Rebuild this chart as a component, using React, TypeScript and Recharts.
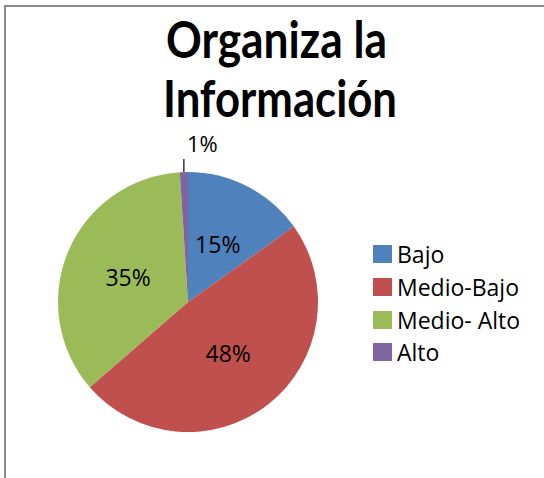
import React from 'react';
import { PieChart, Pie, Cell, Legend } from 'recharts';

const categories = ['Bajo', 'Medio-Bajo', 'Medio- Alto', 'Alto'];
const values = [15, 48, 35, 1];
const colors = ['#4F81BD', '#C0504D', '#9BBB59', '#8064A2'];
const titleLines = ['Organiza la', 'Información'];

const data = categories.map((name, i) => ({ name, value: values[i] }));

const RADIAN = Math.PI / 180;
const labelFont = '"Open Sans", "Noto Sans", sans-serif';

function SliceLabel(props: any) {
  const { cx, cy, midAngle, outerRadius, value, index } = props;
  const cos = Math.cos(-midAngle * RADIAN);
  const sin = Math.sin(-midAngle * RADIAN);
  if (index === 3) {
    const ex = cx + outerRadius * cos;
    const ey = cy + outerRadius * sin;
    return (
      <g>
        <line x1={ex} y1={ey} x2={ex} y2={ey - 13} stroke="#000" strokeWidth={1.2} />
        <text x={ex + 3} y={ey - 20} fill="#000" fontSize={22} fontFamily={labelFont} textAnchor="start">
          {`${value}%`}
        </text>
      </g>
    );
  }
  const r = outerRadius * 0.5;
  return (
    <text
      x={cx + r * cos}
      y={cy + r * sin}
      fill="#000"
      fontSize={23}
      fontFamily={labelFont}
      textAnchor="middle"
      dominantBaseline="central"
    >
      {`${value}%`}
    </text>
  );
}

function LegendBox() {
  return (
    <div style={{ fontFamily: labelFont, fontSize: 23, color: '#000' }}>
      {categories.map((c, i) => (
        <div key={c} style={{ display: 'flex', alignItems: 'center', height: 32.7 }}>
          <span style={{ width: 19, height: 18, background: colors[i], marginRight: 5, display: 'inline-block' }} />
          <span style={{ lineHeight: '26px', whiteSpace: 'pre' }}>{c}</span>
        </div>
      ))}
    </div>
  );
}

export default function App() {
  return (
    <div style={{ position: 'absolute', left: 0, top: 0, width: 544, height: 478, background: '#fff', overflow: 'hidden' }}>
      <div
        style={{
          position: 'absolute',
          left: 4,
          top: 5,
          width: 560,
          height: 500,
          borderTop: '2px solid #8a8a8a',
          borderLeft: '2px solid #8a8a8a',
        }}
      />
      <svg width={544} height={130} style={{ position: 'absolute', left: 0, top: 0 }}>
        <text
          x={166}
          y={58}
          textLength={221}
          lengthAdjust="spacingAndGlyphs"
          fontFamily="Lato, 'Open Sans', sans-serif"
          fontWeight="bold"
          fontSize={51}
          fill="#000"
        >
          {titleLines[0]}
        </text>
        <text
          x={163}
          y={117}
          textLength={234}
          lengthAdjust="spacingAndGlyphs"
          fontFamily="Lato, 'Open Sans', sans-serif"
          fontWeight="bold"
          fontSize={51}
          fill="#000"
        >
          {titleLines[1]}
        </text>
      </svg>
      <div style={{ position: 'absolute', left: 0, top: 0 }}>
        <PieChart width={544} height={478} margin={{ top: 0, right: 0, bottom: 0, left: 0 }}>
          <Pie
            data={data}
            dataKey="value"
            nameKey="name"
            cx={188}
            cy={302}
            outerRadius={130}
            startAngle={90}
            endAngle={-270}
            stroke="none"
            label={SliceLabel}
            labelLine={false}
            isAnimationActive={false}
          >
            {data.map((d, i) => (
              <Cell key={d.name} fill={colors[i]} />
            ))}
          </Pie>
          <Legend
            content={<LegendBox />}
            layout="vertical"
            wrapperStyle={{ position: 'absolute', left: 373, top: 238, width: 170 }}
          />
        </PieChart>
      </div>
    </div>
  );
}
